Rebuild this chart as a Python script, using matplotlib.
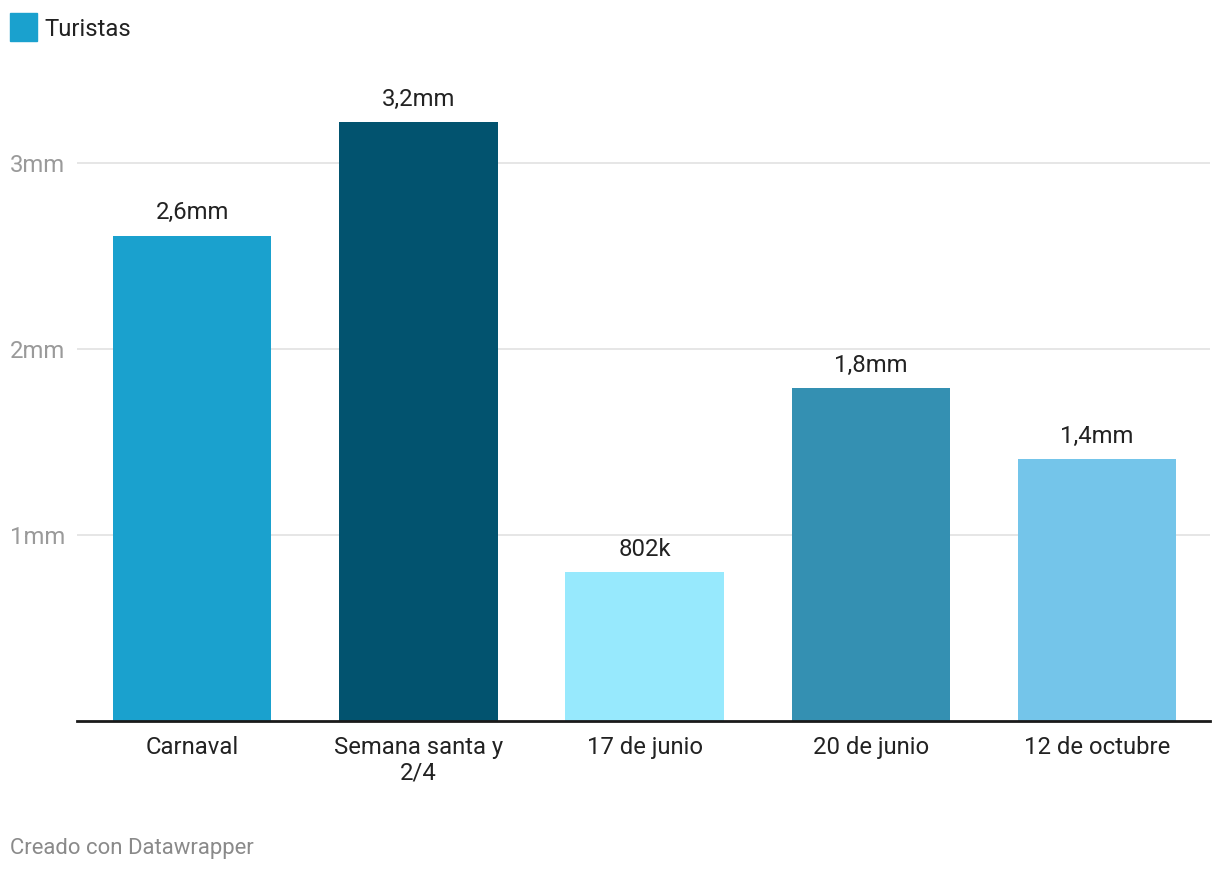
import matplotlib
matplotlib.use("Agg")
import matplotlib.pyplot as plt
from matplotlib.transforms import blended_transform_factory
from matplotlib.patches import Rectangle

plt.rcParams['font.family'] = ['Roboto', 'DejaVu Sans']

categories = ["Carnaval", "Semana santa y\n2/4", "17 de junio", "20 de junio", "12 de octubre"]
values = [2.61, 3.22, 0.802, 1.79, 1.41]
value_labels = ["2,6mm", "3,2mm", "802k", "1,8mm", "1,4mm"]
colors = ["#1aa1ce", "#02536f", "#97e9fd", "#3490b2", "#74c5ea"]
yticks = [1, 2, 3]
ytick_labels = ["1mm", "2mm", "3mm"]
legend_label = "Turistas"
footer = "Creado con Datawrapper"

FS = 17.2
W, H = 1220, 872
fig = plt.figure(figsize=(W / 100, H / 100), dpi=100)
left, right = 77 / W, 1210 / W
bottom = 1 - 721 / H
top = 1 - 60 / H
ax = fig.add_axes([left, bottom, right - left, top - bottom])

x = list(range(len(categories)))
ax.bar(x, values, width=0.70, color=colors, zorder=2)
ax.set_xlim(-0.51, len(categories) - 0.5)
ax.set_ylim(0, (721 - 60) / 186)

for s in ax.spines.values():
    s.set_visible(False)
ax.axhline(0, color="#1a1a1a", lw=2.0, zorder=3, clip_on=False)
for t in yticks:
    ax.axhline(t, color="#e2e2e2", lw=1.2, zorder=1)

ax.set_yticks([])
ax.set_xticks(x)
ax.set_xticklabels(categories, fontsize=FS, color="#222222", linespacing=1.15)
ax.tick_params(axis="x", length=0, pad=11)

tr = blended_transform_factory(fig.transFigure, ax.transData)
for t, lab in zip(yticks, ytick_labels):
    ax.text(10 / W, t, lab, transform=tr, ha="left", va="center_baseline",
            fontsize=FS, color="#9a9a9a")

for xi, v, lab in zip(x, values, value_labels):
    ax.annotate(lab, (xi, v), xytext=(0, 8), textcoords="offset points",
                ha="center", va="bottom", fontsize=FS, color="#222222")

fig.patches.append(Rectangle((10 / W, 1 - 41 / H), 27 / W, 28 / H,
                             transform=fig.transFigure, color=colors[0]))
fig.text(44 / W, 1 - 27 / H, legend_label, ha="left", va="center_baseline",
         fontsize=FS, color="#222222")
fig.text(10 / W, 1 - 846 / H, footer, ha="left", va="center_baseline",
         fontsize=15.9, color="#8a8a8a")

fig.savefig("out.png", dpi=100, facecolor="white")
